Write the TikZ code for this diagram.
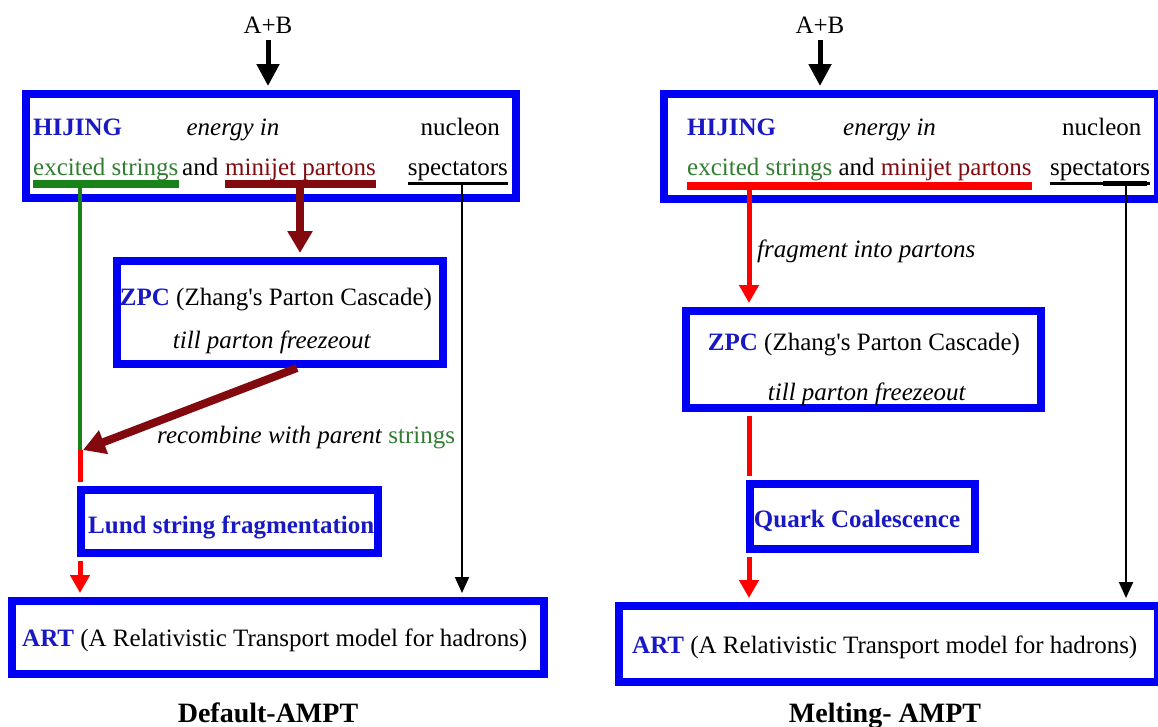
\documentclass[tikz,border=0pt]{standalone}
\usepackage{fontspec}
\setmainfont{Liberation Serif}
\usetikzlibrary{arrows.meta}
\definecolor{boxblue}{RGB}{0,0,245}
\definecolor{nameblue}{RGB}{25,25,195}
\definecolor{strgreen}{RGB}{25,130,25}
\definecolor{txtgreen}{RGB}{50,125,50}
\definecolor{jetred}{RGB}{130,10,15}
\definecolor{flowred}{RGB}{255,0,0}
\tikzset{
  modbox/.style={draw=boxblue,line width=8pt,inner sep=0pt},
  lbl/.style={inner sep=0pt,font=\fontsize{25}{30}\selectfont},
  ttl/.style={inner sep=0pt,font=\fontsize{28}{32}\selectfont\bfseries},
  uline/.style={line width=8pt},
  inarrow/.style={line width=5pt,shorten >=4pt,-{Triangle[width=22pt,length=22pt]}},
  redarrow/.style={flowred,line width=5pt,shorten >=4pt,-{Triangle[width=19pt,length=18pt]}},
  jetarrow/.style={jetred,line width=8pt,-{Triangle[width=24pt,length=22pt]}},
  specarrow/.style={line width=2pt,shorten >=4pt,-{Triangle[width=14pt,length=16pt]}},
}
\newcommand{\mname}[1]{\textcolor{nameblue}{\textbf{#1}}}
\begin{document}
\begin{tikzpicture}[x=1pt,y=-1pt]
  \useasboundingbox (0,0) rectangle (1158,726);

  % Default-AMPT
  \node[modbox,minimum width=490pt,minimum height=104pt] (hijL) at (271,146) {};
  \node[modbox,minimum width=326pt,minimum height=103pt] (zpcL) at (280,312.5) {};
  \node[modbox,minimum width=297pt,minimum height=63pt] (lundL) at (229.5,521.5) {};
  \node[modbox,minimum width=532pt,minimum height=73pt] (artL) at (278,637.5) {};

  \node[lbl,anchor=base] (abL) at (268,33) {A+B};
  \node[lbl,anchor=base west] (hjL) at (33,135) {\mname{HIJING}};
  \node[lbl,anchor=base] (enL) at (233,135) {\textit{energy in}};
  \node[lbl,anchor=base east] (nuL) at (500,135) {nucleon};
  \node[lbl,anchor=base west,text=txtgreen] (exL) at (33,175) {excited strings};
  \node[lbl,anchor=base west] (anL) at (182,175) {and};
  \node[lbl,anchor=base west,text=jetred] (mjL) at (225,175) {minijet partons};
  \node[lbl,anchor=base east] (spL) at (508,175) {spectators};
  \node[lbl,anchor=base] (zpL) at (276,305) {\mname{ZPC} (Zhang\textquotesingle s Parton Cascade)};
  \node[lbl,anchor=base] (fzL) at (272,348) {\textit{till parton freezeout}};
  \node[lbl,anchor=base west] (rcL) at (157,443) {\textit{recombine with parent} \textcolor{txtgreen}{strings}};
  \node[lbl,anchor=base west] (luL) at (88,533) {\mname{Lund string fragmentation}};
  \node[lbl,anchor=base west] (atL) at (22,646) {\mname{ART} (A Relativistic Transport model for hadrons)};
  \node[ttl,anchor=base] (tlL) at (268,722) {Default-AMPT};

  \draw[uline,strgreen] ([yshift=-9pt]exL.base west) -- ([yshift=-9pt]exL.base east);
  \draw[uline,jetred] ([yshift=-9pt]mjL.base west) -- ([yshift=-9pt]mjL.base east);
  \draw[line width=3pt] ([yshift=-8pt]spL.base west) -- ([yshift=-8pt]spL.base east);

  \coordinate (gL) at (80,184);
  \coordinate (jL) at (80,450);
  \coordinate (mL) at (300,184);
  \coordinate (sL) at (462,183);
  \draw[inarrow] ([yshift=-7pt]abL.south) -- (abL.south |- hijL.north);
  \draw[strgreen,line width=4pt] (gL) -- (jL);
  \draw[flowred,line width=5pt] (jL) -- ([yshift=4pt]lundL.north -| jL);
  \draw[redarrow] ([yshift=-4pt]lundL.south -| jL) -- (artL.north -| jL);
  \draw[jetarrow,shorten >=4pt] (mL) -- (zpcL.north -| mL);
  \draw[jetarrow] ([xshift=-3pt]zpcL.south -| mL) -- ([xshift=3pt]jL);
  \draw[specarrow] (sL) -- (artL.north -| sL);

  % Melting-AMPT
  \node[modbox,minimum width=494pt,minimum height=105pt] (hijR) at (911,146.5) {};
  \node[modbox,minimum width=355pt,minimum height=97pt] (zpcR) at (863.5,359.5) {};
  \node[modbox,minimum width=225pt,minimum height=65pt] (quarkR) at (862.5,516.5) {};
  \node[modbox,minimum width=539pt,minimum height=76pt] (artR) at (888.5,644) {};

  \node[lbl,anchor=base] (abR) at (820,33) {A+B};
  \node[lbl,anchor=base west] (hjR) at (687,135) {\mname{HIJING}};
  \node[lbl,anchor=base west] (enR) at (843,135) {\textit{energy in}};
  \node[lbl,anchor=base west] (nuR) at (1062,135) {nucleon};
  \node[lbl,anchor=base west] (exR) at (687,175) {\textcolor{txtgreen}{excited strings} and \textcolor{jetred}{minijet partons}};
  \node[lbl,anchor=base west] (spR) at (1050,175) {spectators};
  \node[lbl,anchor=base west] (frR) at (757,257) {\textit{fragment into partons}};
  \node[lbl,anchor=base] (zpR) at (864,350) {\mname{ZPC} (Zhang\textquotesingle s Parton Cascade)};
  \node[lbl,anchor=base] (fzR) at (867,400) {\textit{till parton freezeout}};
  \node[lbl,anchor=base] (qcR) at (857,527) {\mname{Quark Coalescence}};
  \node[lbl,anchor=base west] (atR) at (632,653) {\mname{ART} (A Relativistic Transport model for hadrons)};
  \node[ttl,anchor=base] (tlR) at (885,722) {Melting- AMPT};

  \draw[uline,flowred] ([yshift=-11pt]exR.base west) -- ([yshift=-11pt]exR.base east);
  \draw[line width=3pt] ([yshift=-8pt]spR.base west) -- ([yshift=-8pt]spR.base east);

  \coordinate (fR) at (749,186);
  \coordinate (sR) at (1126,183);
  \draw[line width=5pt] ([xshift=-23pt]sR) -- ([xshift=21pt]sR);
  \draw[inarrow] ([yshift=-7pt]abR.south) -- (abR.south |- hijR.north);
  \draw[redarrow] (fR) -- (zpcR.north -| fR);
  \draw[flowred,line width=5pt] ([yshift=-4pt]zpcR.south -| fR) -- ([yshift=4pt]quarkR.north -| fR);
  \draw[redarrow] ([yshift=-4pt]quarkR.south -| fR) -- (artR.north -| fR);
  \draw[specarrow] (sR) -- (artR.north -| sR);
\end{tikzpicture}
\end{document}
